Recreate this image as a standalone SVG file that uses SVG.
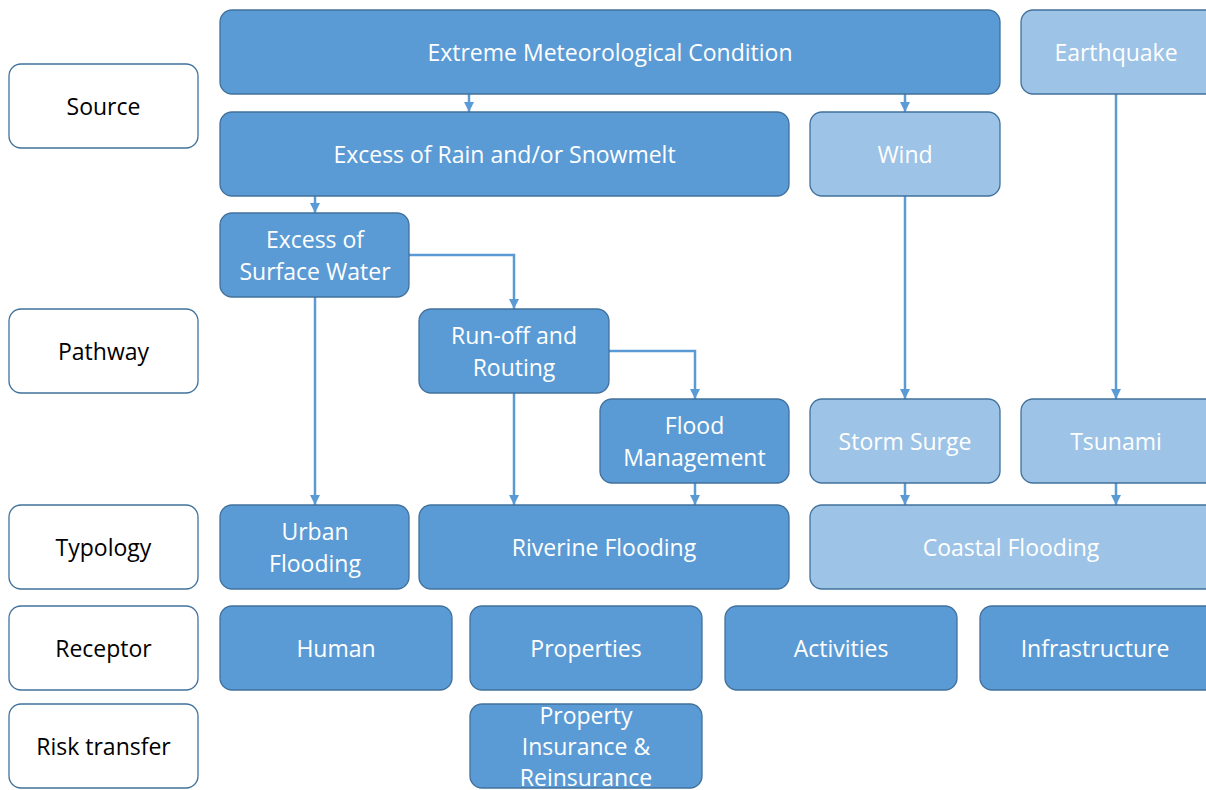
<svg xmlns="http://www.w3.org/2000/svg" width="1206" height="790" viewBox="0 0 1206 790">
<style>
.lbl rect{fill:#ffffff;stroke:#41719C;stroke-width:1.3}
.dk rect{fill:#5B9BD5;stroke:#41719C;stroke-width:1.3}
.lt rect{fill:#9DC3E6;stroke:#41719C;stroke-width:1.3}
text{font-family:"Open Sans","Liberation Sans",sans-serif;font-size:23px;text-anchor:middle;dominant-baseline:central}
.lbl text{fill:#000000}
.dk text,.lt text{fill:#ffffff}
.c path{fill:none;stroke:#5B9BD5;stroke-width:2.5;marker-end:url(#ah)}
</style>
<defs>
<marker id="ah" viewBox="0 0 10 10" refX="10" refY="5" markerWidth="4" markerHeight="4" orient="auto" markerUnits="strokeWidth">
<path d="M0,0 L10,5 L0,10 z" fill="#5B9BD5"/>
</marker>
</defs>
<rect width="1206" height="790" fill="#ffffff"/>
<g class="c" id="connectors">
<path d="M469,94 V112"/>
<path d="M905,94 V112"/>
<path d="M315,196 V213"/>
<path d="M315,297 V505"/>
<path d="M409,255 H514 V309"/>
<path d="M514,393 V505"/>
<path d="M609,351 H695 V399"/>
<path d="M695,483 V505"/>
<path d="M905,196 V399"/>
<path d="M1116,94 V399"/>
<path d="M905,483 V505"/>
<path d="M1116,483 V505"/>
</g>
<g id="source" class="lbl"><rect x="9" y="64" width="189" height="84" rx="12"/><text x="103.5" y="106">Source</text></g>
<g id="pathway" class="lbl"><rect x="9" y="309" width="189" height="84" rx="12"/><text x="103.5" y="351">Pathway</text></g>
<g id="typology" class="lbl"><rect x="9" y="505" width="189" height="84" rx="12"/><text x="103.5" y="547">Typology</text></g>
<g id="receptor" class="lbl"><rect x="9" y="606" width="189" height="84" rx="12"/><text x="103.5" y="648">Receptor</text></g>
<g id="risk-transfer" class="lbl"><rect x="9" y="704" width="189" height="84" rx="12"/><text x="103.5" y="746">Risk transfer</text></g>

<g id="extreme" class="dk"><rect x="220" y="10" width="780" height="84" rx="12"/><text x="610" y="52">Extreme Meteorological Condition</text></g>
<g id="earthquake" class="lt"><rect x="1021" y="10" width="200" height="84" rx="12"/><text x="1116" y="52">Earthquake</text></g>
<g id="rain" class="dk"><rect x="220" y="112" width="569" height="84" rx="12"/><text x="504.5" y="154">Excess of Rain and/or Snowmelt</text></g>
<g id="wind" class="lt"><rect x="810" y="112" width="190" height="84" rx="12"/><text x="905" y="154">Wind</text></g>
<g id="surface-water" class="dk"><rect x="220" y="213" width="189" height="84" rx="12"/><text x="315" y="239">Excess of</text><text x="315" y="271">Surface Water</text></g>
<g id="runoff" class="dk"><rect x="419" y="309" width="190" height="84" rx="12"/><text x="514" y="335">Run-off and</text><text x="514" y="367">Routing</text></g>
<g id="flood-mgmt" class="dk"><rect x="600" y="399" width="189" height="84" rx="12"/><text x="694.5" y="425">Flood</text><text x="694.5" y="457">Management</text></g>
<g id="storm-surge" class="lt"><rect x="810" y="399" width="190" height="84" rx="12"/><text x="905" y="441">Storm Surge</text></g>
<g id="tsunami" class="lt"><rect x="1021" y="399" width="200" height="84" rx="12"/><text x="1116" y="441">Tsunami</text></g>
<g id="urban" class="dk"><rect x="220" y="505" width="189" height="84" rx="12"/><text x="315" y="531">Urban</text><text x="315" y="563">Flooding</text></g>
<g id="riverine" class="dk"><rect x="419" y="505" width="370" height="84" rx="12"/><text x="604" y="547">Riverine Flooding</text></g>
<g id="coastal" class="lt"><rect x="810" y="505" width="410" height="84" rx="12"/><text x="1011" y="547">Coastal Flooding</text></g>
<g id="human" class="dk"><rect x="220" y="606" width="232" height="84" rx="12"/><text x="336" y="648">Human</text></g>
<g id="properties" class="dk"><rect x="470" y="606" width="232" height="84" rx="12"/><text x="586" y="648">Properties</text></g>
<g id="activities" class="dk"><rect x="725" y="606" width="232" height="84" rx="12"/><text x="841" y="648">Activities</text></g>
<g id="infrastructure" class="dk"><rect x="980" y="606" width="240" height="84" rx="12"/><text x="1095" y="648">Infrastructure</text></g>
<g id="insurance" class="dk"><rect x="470" y="704" width="232" height="84" rx="12"/><text x="586" y="715">Property</text><text x="586" y="746">Insurance &amp;</text><text x="586" y="777">Reinsurance</text></g>
</svg>
